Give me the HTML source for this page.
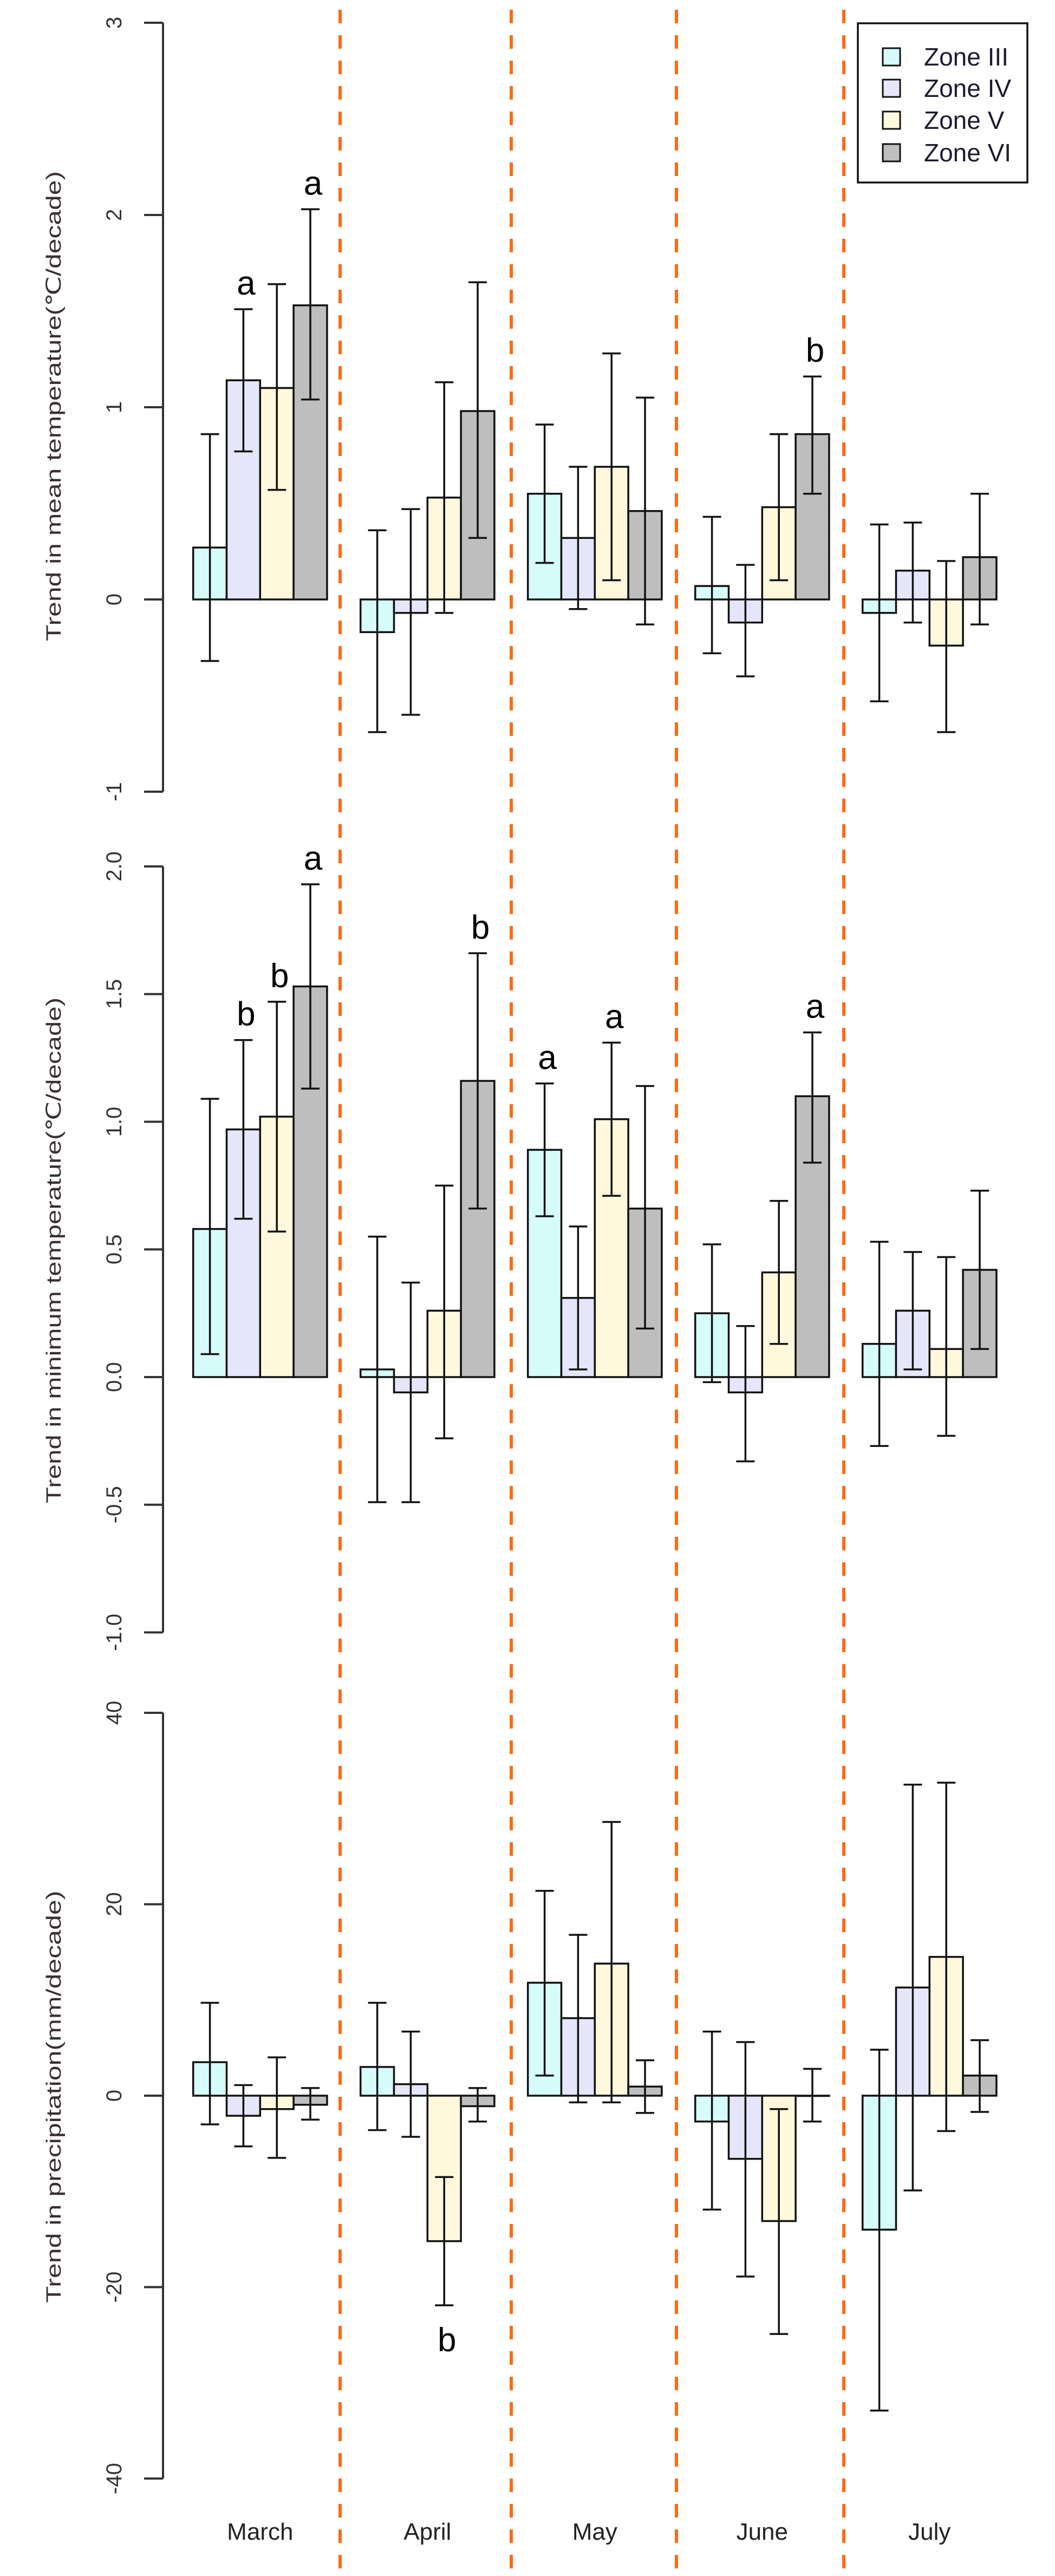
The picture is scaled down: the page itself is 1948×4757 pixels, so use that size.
<!DOCTYPE html>
<html><head><meta charset="utf-8">
<style>
html,body{margin:0;padding:0;background:#fff;}
svg{display:block;}
text{font-family:"Liberation Sans",sans-serif;}
</style></head>
<body>
<svg id="chart" width="1948" height="4757" viewBox="0 0 1948 4757" xmlns="http://www.w3.org/2000/svg">
<rect x="0" y="0" width="1948" height="4757" fill="#fff"/>
</svg>
<script>
const months = ["March","April","May","June","July"];
const zones = ["Zone III","Zone IV","Zone V","Zone VI"];
const zoneColors = ["#d6fbfb","#e6e6fa","#fff8dc","#bebebe"];

// Panel 1: mean temperature trend (°C/decade)
const meanVals = [[0.27,1.14,1.10,1.53],[-0.17,-0.07,0.53,0.98],[0.55,0.32,0.69,0.46],[0.07,-0.12,0.48,0.86],[-0.07,0.15,-0.24,0.22]];
const meanLo = [[-0.32,0.77,0.57,1.04],[-0.69,-0.60,-0.07,0.32],[0.19,-0.05,0.10,-0.13],[-0.28,-0.40,0.10,0.55],[-0.53,-0.12,-0.69,-0.13]];
const meanHi = [[0.86,1.51,1.64,2.03],[0.36,0.47,1.13,1.65],[0.91,0.69,1.28,1.05],[0.43,0.18,0.86,1.16],[0.39,0.40,0.20,0.55]];
const meanTicks = [-1,0,1,2,3];
const meanTickLabels = ["-1","0","1","2","3"];
const meanLetters = [[0,1,"a"],[0,3,"a"],[3,3,"b"]];

// Panel 2: minimum temperature trend
const minVals = [[0.58,0.97,1.02,1.53],[0.03,-0.06,0.26,1.16],[0.89,0.31,1.01,0.66],[0.25,-0.06,0.41,1.10],[0.13,0.26,0.11,0.42]];
const minLo = [[0.09,0.62,0.57,1.13],[-0.49,-0.49,-0.24,0.66],[0.63,0.03,0.71,0.19],[-0.02,-0.33,0.13,0.84],[-0.27,0.03,-0.23,0.11]];
const minHi = [[1.09,1.32,1.47,1.93],[0.55,0.37,0.75,1.66],[1.15,0.59,1.31,1.14],[0.52,0.20,0.69,1.35],[0.53,0.49,0.47,0.73]];
const minTicks = [-1.0,-0.5,0.0,0.5,1.0,1.5,2.0];
const minTickLabels = ["-1.0","-0.5","0.0","0.5","1.0","1.5","2.0"];
const minLetters = [[0,1,"b"],[0,2,"b"],[0,3,"a"],[1,3,"b"],[2,0,"a"],[2,2,"a"],[3,3,"a"]];

// Panel 3: precipitation trend (mm/decade)
const preVals = [[3.5,-2.1,-1.4,-0.95],[3.0,1.2,-15.2,-1.1],[11.8,8.1,13.8,0.95],[-2.7,-6.6,-13.1,0.0],[-14.0,11.3,14.5,2.1]];
const preLo = [[-3.0,-5.3,-6.5,-2.5],[-3.6,-4.3,-21.9,-2.7],[2.1,-0.7,-0.7,-1.8],[-11.9,-18.9,-24.9,-2.7],[-32.9,-9.9,-3.7,-1.7]];
const preHi = [[9.7,1.1,4.0,0.8],[9.7,6.7,-8.5,0.8],[21.4,16.8,28.6,3.7],[6.7,5.6,-1.4,2.8],[4.8,32.5,32.7,5.8]];
const preTicks = [-40,-20,0,20,40];
const preTickLabels = ["-40","-20","0","20","40"];
const preLetters = [[1,2,"b"]];

const svg = document.getElementById('chart');
const NS = "http://www.w3.org/2000/svg";
function mk(tag, attrs, parent){
  const e = document.createElementNS(NS, tag);
  for (const k in attrs) e.setAttribute(k, attrs[k]);
  (parent||svg).appendChild(e);
  return e;
}
const barW = 61.8, groupStart = 356.7, groupStep = 309;
function xBar(g, z){ return groupStart + g*groupStep + z*barW; }
const axisX = 301;

// dashed separators
const sepX = [628, 944, 1249, 1558];
sepX.forEach((x,i)=>{
  const l = mk('line',{x1:x,y1:18,x2:x,y2:4757,stroke:'#ff6a13','stroke-width':6,'stroke-dasharray':'25 22'});
  
  
});

function panel(cfg){
  const g = mk('g',{});
  
  
  const Y = v => cfg.zero - v*cfg.unit;
  // axis
  const ax = mk('line',{x1:axisX,y1:Y(cfg.ticks[0]),x2:axisX,y2:Y(cfg.ticks[cfg.ticks.length-1]),stroke:'#333','stroke-width':4},g);
  
  
  cfg.ticks.forEach((t,i)=>{
    const tk = mk('line',{x1:axisX-35,y1:Y(t),x2:axisX,y2:Y(t),stroke:'#333','stroke-width':4},g);
    
    
    const tl = mk('text',{x:0,y:0,'font-size':40,fill:'#333','text-anchor':'middle',transform:`translate(224,${Y(t)}) rotate(-90)`},g);
    tl.textContent = cfg.tickLabels[i];
    
    
  });
  const tt = mk('text',{x:0,y:0,'font-size':38,fill:'#3a3030','text-anchor':'middle',textLength:cfg.titleLen,lengthAdjust:'spacingAndGlyphs',transform:`translate(112,${cfg.titleY}) rotate(-90)`},g);
  tt.textContent = cfg.title;
  
  
  // bars
  for (let m=0;m<months.length;m++){
    for (let z=0;z<4;z++){
      const v = cfg.vals[m][z];
      const x = xBar(m,z);
      const y1 = Math.min(Y(v),Y(0)), h = Math.abs(Y(v)-Y(0));
      const r = mk('rect',{x:x,y:y1,width:barW,height:Math.max(h,0.5),fill:zoneColors[z],stroke:'#111','stroke-width':3.5},g);
      
      
    }
  }
  for (let m=0;m<months.length;m++){
    for (let z=0;z<4;z++){
      const cx = xBar(m,z)+barW/2;
      const lo = Y(cfg.lo[m][z]), hi = Y(cfg.hi[m][z]);
      const eg = mk('g',{stroke:'#111','stroke-width':3.5},g);
      
      
      mk('line',{x1:cx,y1:lo,x2:cx,y2:hi},eg);
      mk('line',{x1:cx-17,y1:lo,x2:cx+17,y2:lo},eg);
      mk('line',{x1:cx-17,y1:hi,x2:cx+17,y2:hi},eg);
    }
  }
  cfg.letters.forEach(L=>{
    const [m,z,ch] = L;
    const cx = xBar(m,z)+barW/2 + 5;
    let y;
    if (cfg.vals[m][z] < -5) y = Y(cfg.lo[m][z]) + 85;
    else y = Y(cfg.hi[m][z]) - 27;
    const t = mk('text',{x:cx,y:y,'font-size':62,fill:'#000','text-anchor':'middle'},g);
    t.textContent = ch;
    
    
  });
}

panel({name:'mean-temperature-panel',zero:1107,unit:355,ticks:meanTicks,tickLabels:meanTickLabels,
  vals:meanVals,lo:meanLo,hi:meanHi,letters:meanLetters,
  title:'Trend in mean temperature(℃/decade)',titleY:750,titleLen:868});
panel({name:'minimum-temperature-panel',zero:2543,unit:471.5,ticks:minTicks,tickLabels:minTickLabels,
  vals:minVals,lo:minLo,hi:minHi,letters:minLetters,
  title:'Trend in minimum temperature(℃/decade)',titleY:2309,titleLen:934});
panel({name:'precipitation-panel',zero:3870,unit:17.675,ticks:preTicks,tickLabels:preTickLabels,
  vals:preVals,lo:preLo,hi:preHi,letters:preLetters,
  title:'Trend in precipitation(mm/decade)',titleY:3872,titleLen:761});

// month labels
months.forEach((mo,i)=>{
  const t = mk('text',{x:groupStart+i*groupStep+2*barW,y:4690,'font-size':44,fill:'#222','text-anchor':'middle'});
  t.textContent = mo;
  
  
});

// legend
const lg = mk('g',{});


mk('rect',{x:1584,y:43,width:313,height:294,fill:'#fff',stroke:'#111','stroke-width':3.5},lg);
const legY = [105,163,222,282];
zones.forEach((zn,i)=>{
  const e = mk('g',{},lg);
  
  
  mk('rect',{x:1630,y:legY[i]-16,width:32,height:32,fill:zoneColors[i],stroke:'#111','stroke-width':3},e);
  const t = mk('text',{x:1706,y:legY[i]+16,'font-size':46,fill:'#1c1c30'},e);
  t.textContent = zn;
});
</script>
</body></html>
